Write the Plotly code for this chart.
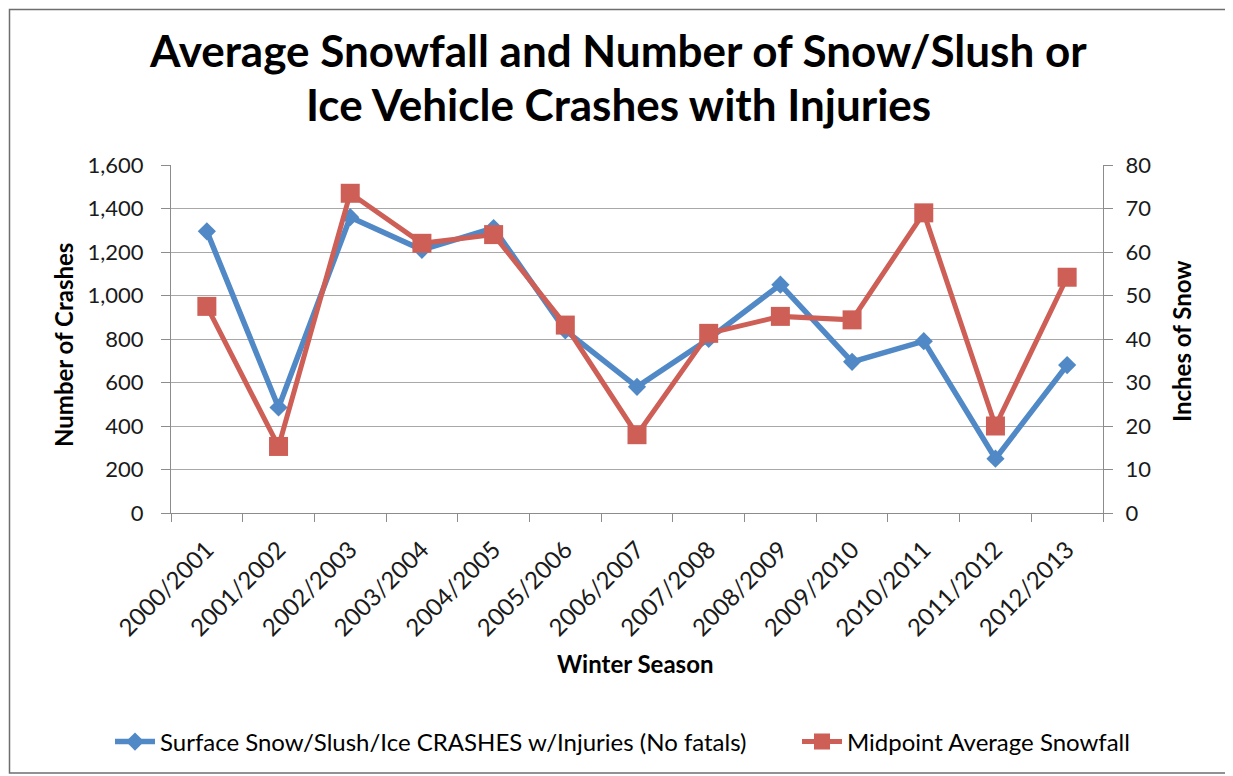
import plotly.graph_objects as go

seasons = ["2000/2001", "2001/2002", "2002/2003", "2003/2004", "2004/2005",
           "2005/2006", "2006/2007", "2007/2008", "2008/2009", "2009/2010",
           "2010/2011", "2011/2012", "2012/2013"]
crashes = [1295, 485, 1360, 1210, 1310, 840, 580, 800, 1050, 695, 790, 250, 680]
snowfall = [47.5, 15.3, 73.5, 62.0, 64.0, 43.2, 18.0, 41.3, 45.2, 44.4, 69.0, 20.0, 54.2]

FONT = "Lato"
OFF = 8  # default page body margin, window coords = figure coords + OFF
W, H = 1233 - OFF, 776 - OFF
ML, MT = 171 - OFF, 165 - OFF
MR, MB = 1233 - 1103, 776 - 513
pw = W - ML - MR
ph = H - MT - MB

# helpers: window pixel -> paper coordinate
def px_x(p):
    return (p - OFF - ML) / pw

def px_y(p):
    return (H - MB - (p - OFF)) / ph

BLUE = "#5089C6"
RED = "#CD5F57"
AXC = "#8c8c8c"

fig = go.Figure()
fig.add_trace(go.Scatter(
    x=seasons, y=crashes, mode="lines+markers",
    name="Surface Snow/Slush/Ice CRASHES w/Injuries (No fatals)",
    line=dict(color=BLUE, width=5.5),
    marker=dict(symbol="diamond", size=14, color=BLUE),
    legend="legend",
))
fig.add_trace(go.Scatter(
    x=seasons, y=snowfall, mode="lines+markers", yaxis="y2",
    name="Midpoint Average Snowfall",
    line=dict(color=RED, width=5),
    marker=dict(symbol="square", size=19, color=RED),
    legend="legend2",
))

fig.update_layout(
    width=W, height=H,
    margin=dict(l=ML, r=MR, t=MT, b=MB, autoexpand=False),
    paper_bgcolor="white", plot_bgcolor="white",
    font=dict(family=FONT, size=22, color="#1a1a1a"),
    xaxis=dict(
        type="category", tickangle=-45, showgrid=False, automargin=False,
        showline=True, linecolor=AXC, linewidth=1,
        ticks="outside", tickson="boundaries", ticklen=8, tickcolor=AXC,
        tickfont=dict(size=24, color="#1a1a1a"), ticklabelstandoff=12,
        range=[-0.5, len(seasons) - 0.5],
    ),
    yaxis=dict(
        range=[0, 1600], dtick=200, tickformat=",", automargin=False,
        showgrid=True, gridcolor="#a8a8a8", gridwidth=1.3,
        showline=True, linecolor=AXC, linewidth=1,
        ticks="outside", ticklen=9, tickcolor=AXC,
        tickfont=dict(size=22, color="#1a1a1a"), ticklabelstandoff=13,
        zeroline=False,
    ),
    yaxis2=dict(
        range=[0, 80], dtick=10, overlaying="y", side="right", automargin=False,
        showgrid=False,
        showline=True, linecolor=AXC, linewidth=1,
        ticks="outside", ticklen=9, tickcolor=AXC,
        tickfont=dict(size=22, color="#1a1a1a"), ticklabelstandoff=8,
        zeroline=False,
    ),
    legend=dict(
        orientation="h", x=px_x(110), xanchor="left",
        y=px_y(742), yanchor="middle",
        font=dict(size=24, color="black"), itemwidth=40,
    ),
    legend2=dict(
        orientation="h", x=px_x(797), xanchor="left",
        y=px_y(742), yanchor="middle",
        font=dict(size=24, color="black"), itemwidth=40,
    ),
    showlegend=True,
)

title_lines = [
    ("<b>Average Snowfall and Number of Snow/Slush or</b>", 50),
    ("<b>Ice Vehicle Crashes with Injuries</b>", 104),
]
for text, ty in title_lines:
    fig.add_annotation(
        text=text, xref="paper", yref="paper", x=px_x(618), y=px_y(ty),
        xanchor="center", yanchor="middle", showarrow=False,
        font=dict(family=FONT, size=44, color="black"),
    )

axis_titles = [
    ("<b>Number of Crashes</b>", 63, 345, -90),
    ("<b>Inches of Snow</b>", 1181, 341, -90),
    ("<b>Winter Season</b>", 635, 663, 0),
]
for text, ax_, ay_, ang in axis_titles:
    fig.add_annotation(
        text=text, xref="paper", yref="paper", x=px_x(ax_), y=px_y(ay_),
        xanchor="center", yanchor="middle", showarrow=False, textangle=ang,
        font=dict(family=FONT, size=24, color="black"),
    )

# frame around the whole chart
fig.add_shape(
    type="rect", xref="paper", yref="paper",
    x0=px_x(9.5), x1=px_x(1230), y0=px_y(773), y1=px_y(9.5),
    line=dict(color="#6e6e6e", width=1.5), layer="below",
)

fig.write_html("out.html")
